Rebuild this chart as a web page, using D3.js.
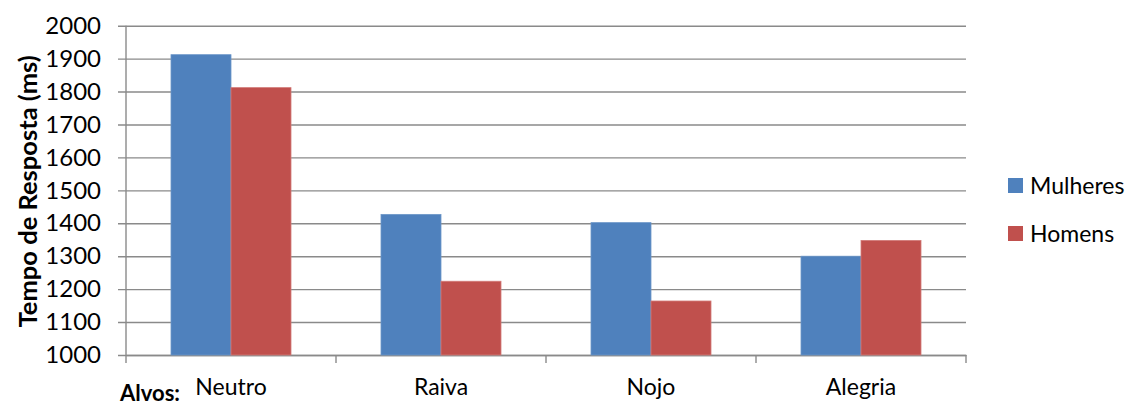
<!DOCTYPE html>
<html>
<head>
<meta charset="utf-8">
<script src="https://cdn.jsdelivr.net/npm/d3@7"></script>
<style>
  html, body { margin: 0; padding: 0; background: #fff; }
  svg text { font-family: Lato, "Open Sans", sans-serif; fill: #000; }
</style>
</head>
<body>
<svg id="chart" width="1134" height="406"></svg>
<script>
// Response times (ms) per target expression, by sex
const categories = ["Neutro", "Raiva", "Nojo", "Alegria"];
const seriesNames = ["Mulheres", "Homens"];
const mulheres = [1912, 1427, 1402, 1300];
const homens = [1812, 1224, 1164, 1348];
const yTicks = [1000, 1100, 1200, 1300, 1400, 1500, 1600, 1700, 1800, 1900, 2000];
const colors = ["#4F81BD", "#C0504D"];
const edgeColors = ["#6d97c9", "#d27c79"];

const svg = d3.select("#chart");
const plotLeft = 126, plotRight = 966, plotTop = 25.7, plotBottom = 355;

const x = d3.scaleBand().domain(categories).range([plotLeft, plotRight]).paddingInner(0).paddingOuter(0);
const inner = d3.scaleBand().domain(seriesNames).range([0, x.bandwidth()]).paddingInner(0).paddingOuter(0.75);
const y = d3.scaleLinear().domain([1000, 2000]).range([plotBottom, plotTop]);

// horizontal gridlines with outside tick marks
const yAxis = svg.append("g").attr("transform", `translate(${plotLeft},0)`)
  .call(d3.axisLeft(y).tickValues(yTicks).tickSize(-(plotRight - plotLeft)).tickSizeOuter(0).tickFormat(d3.format("d")));
yAxis.select(".domain").remove();
yAxis.selectAll(".tick line").attr("x1", -8).attr("stroke", "#8a8a8a").attr("stroke-width", 1.4);
yAxis.selectAll(".tick text").attr("font-size", 24).attr("x", -25).style("font-family", "Lato, sans-serif");

// vertical axis line
svg.append("line").attr("x1", plotLeft).attr("x2", plotLeft).attr("y1", plotTop).attr("y2", plotBottom + 8)
  .attr("stroke", "#8a8a8a").attr("stroke-width", 1.4);

// category axis
const xAxis = svg.append("g").attr("transform", `translate(0,${plotBottom})`)
  .call(d3.axisBottom(x).tickSize(0).tickPadding(24));
xAxis.select(".domain").attr("stroke", "#8a8a8a").attr("stroke-width", 1.4);
xAxis.selectAll(".tick text").attr("font-size", 23).style("font-family", "Lato, sans-serif");
const boundaries = categories.map(c => x(c)).concat([plotRight]).slice(1);
svg.append("g").selectAll("line").data(boundaries).join("line")
  .attr("x1", d => d).attr("x2", d => d).attr("y1", plotBottom).attr("y2", plotBottom + 8)
  .attr("stroke", "#8a8a8a").attr("stroke-width", 1.4);

// bars
const series = [mulheres, homens];
series.forEach((vals, si) => {
  svg.append("g").selectAll("rect").data(categories).join("rect")
    .attr("x", c => x(c) + inner(seriesNames[si]))
    .attr("width", inner.bandwidth())
    .attr("y", (c, i) => y(vals[i]))
    .attr("height", (c, i) => y(1000) - y(vals[i]))
    .attr("fill", colors[si])
    .attr("stroke", edgeColors[si]).attr("stroke-width", 0.8);
});

// axis titles
svg.append("text")
  .attr("transform", `translate(37,${(plotTop + plotBottom) / 2 + 1}) rotate(-90)`)
  .attr("text-anchor", "middle").attr("font-size", 25.5).attr("font-weight", "bold")
  .text("Tempo de Resposta (ms)");
svg.append("text").attr("x", 120).attr("y", 401)
  .attr("font-size", 22).attr("font-weight", "bold").text("Alvos:");

// legend
const legend = svg.append("g").selectAll("g").data(seriesNames).join("g")
  .attr("transform", (d, i) => `translate(1008,${178 + i * 48})`);
legend.append("rect").attr("width", 15).attr("height", 15).attr("fill", (d, i) => colors[i]);
legend.append("text").attr("x", 22).attr("y", 7.5).attr("dy", "0.36em")
  .attr("font-size", 23).text(d => d);
</script>
</body>
</html>
